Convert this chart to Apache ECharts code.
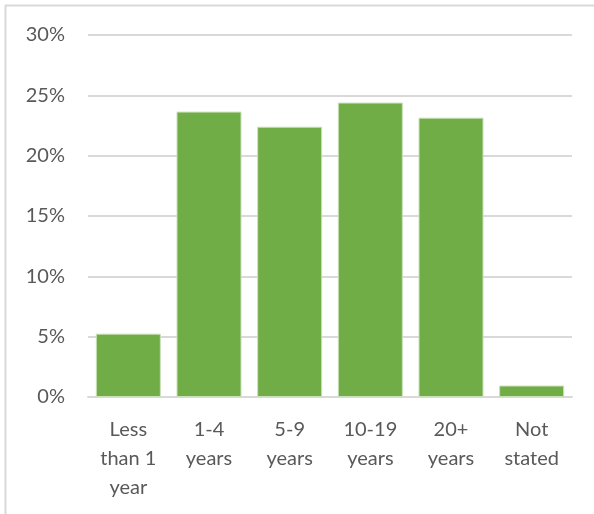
<!DOCTYPE html>
<html>
<head>
<meta charset="utf-8">
<script src="https://cdn.jsdelivr.net/npm/echarts@6/dist/echarts.min.js"></script>
<style>
html,body{margin:0;padding:0;background:#fff;}
#chart{width:594px;height:514px;}
</style>
</head>
<body>
<div id="chart"></div>
<script>
const categories = ["Less\nthan 1\nyear", "1-4\nyears", "5-9\nyears", "10-19\nyears", "20+\nyears", "Not\nstated"];
const values = [5.25, 23.65, 22.4, 24.4, 23.15, 0.95];
const yTicks = [0, 5, 10, 15, 20, 25, 30];

const chart = echarts.init(document.getElementById('chart'), null, {renderer: 'canvas'});
const fontFamily = 'Lato, "Noto Sans", sans-serif';
chart.setOption({
  animation: false,
  backgroundColor: '#fff',
  graphic: [{
    type: 'rect',
    shape: {x: 5.5, y: 5.5, width: 800, height: 800},
    style: {fill: 'none', stroke: '#d9d9d9', lineWidth: 2},
    silent: true
  }],
  grid: {left: 88, right: 22, top: 35, bottom: 117},
  xAxis: {
    type: 'category',
    data: categories,
    axisLine: {show: true, lineStyle: {color: '#d9d9d9', width: 2}},
    axisTick: {show: false},
    axisLabel: {
      color: '#595959', fontFamily: fontFamily, fontSize: 20,
      lineHeight: 29, margin: 18, interval: 0, align: 'center'
    }
  },
  yAxis: {
    type: 'value',
    min: yTicks[0],
    max: yTicks[yTicks.length - 1],
    interval: 5,
    axisLine: {show: false},
    axisTick: {show: false},
    splitLine: {lineStyle: {color: '#d9d9d9', width: 2}},
    axisLabel: {
      color: '#595959', fontFamily: fontFamily, fontSize: 20, margin: 23,
      formatter: v => v + '%'
    }
  },
  series: [{
    type: 'bar',
    data: values,
    barWidth: 65,
    itemStyle: {color: '#70ad47', borderColor: '#c9e0b8', borderWidth: 1}
  }]
});
</script>
</body>
</html>
